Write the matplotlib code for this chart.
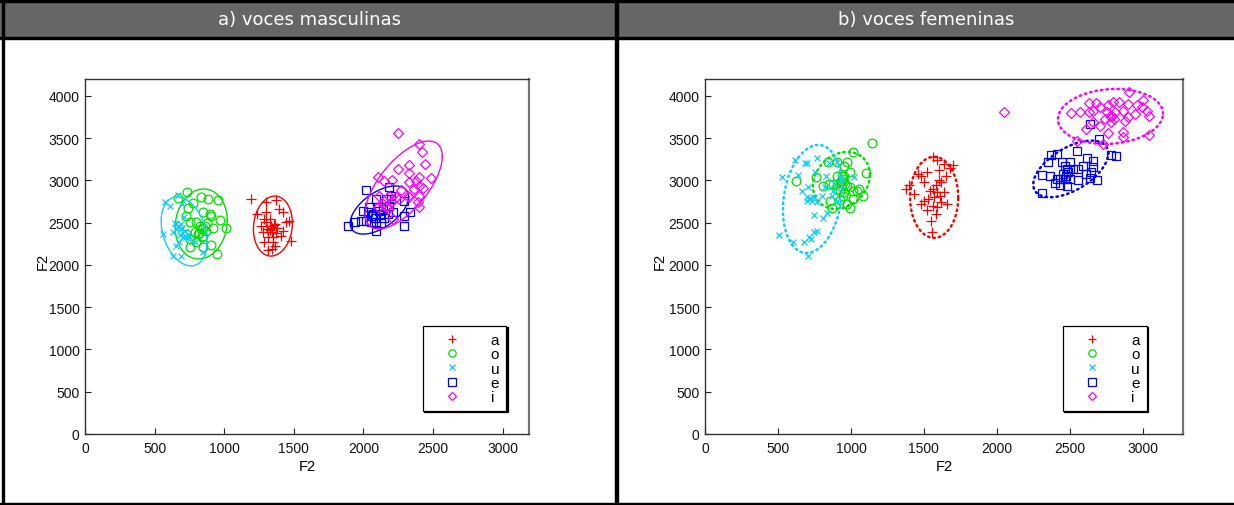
import numpy as np
import matplotlib
matplotlib.use("Agg")
import matplotlib.pyplot as plt
from matplotlib.patches import Rectangle
from matplotlib.lines import Line2D

plt.rcParams['font.family'] = ['Liberation Sans', 'DejaVu Sans']

vowels = ["a", "o", "u", "e", "i"]
colors = ["#ff0000", "#00e000", "#11ccff", "#0000ff", "#ff00ff"]
markers = ["+", "o", "x", "s", "D"]
msizes = [7, 6.3, 5, 6.3, 5]
titles = ["a) voces masculinas", "b) voces femeninas"]

# ---- voces masculinas: (F2, F3) por vocal ----
male_a = [(1195, 2781), (1297, 2749), (1374, 2773), (1235, 2604), (1297, 2631), (1393, 2663),
          (1422, 2623), (1446, 2513), (1465, 2525), (1302, 2505), (1331, 2544), (1338, 2465),
          (1362, 2485), (1379, 2434), (1307, 2426), (1345, 2394), (1278, 2387), (1422, 2406),
          (1410, 2347), (1314, 2327), (1350, 2327), (1283, 2268), (1350, 2276), (1362, 2229),
          (1345, 2189), (1314, 2181), (1482, 2288), (1266, 2465), (1283, 2544), (1340, 2440),
          (1355, 2470), (1330, 2410), (1370, 2380)]
male_o = [(733, 2860), (669, 2789), (836, 2801), (884, 2781), (956, 2773), (777, 2734),
          (741, 2671), (848, 2623), (896, 2604), (908, 2584), (729, 2584), (801, 2505),
          (824, 2465), (860, 2465), (968, 2537), (1011, 2434), (920, 2434), (753, 2505),
          (789, 2387), (812, 2367), (848, 2347), (753, 2308), (801, 2268), (848, 2209),
          (908, 2237), (753, 2209), (948, 2130), (729, 2367), (830, 2420), (850, 2440),
          (820, 2380), (870, 2400), (840, 2330), (880, 2500)]
male_u = [(573, 2742), (669, 2828), (557, 2367), (652, 2485), (669, 2465), (633, 2387),
          (693, 2426), (717, 2347), (729, 2327), (753, 2308), (676, 2268), (657, 2229),
          (633, 2110), (693, 2110), (789, 2268), (848, 2150), (710, 2564), (609, 2702),
          (690, 2480), (700, 2440), (660, 2420), (720, 2400), (740, 2360), (705, 2330),
          (680, 2350), (650, 2500), (700, 2720)]
male_e = [(2019, 2891), (2186, 2919), (2091, 2781), (2163, 2781), (2198, 2781), (2043, 2683),
          (2103, 2683), (2139, 2663), (2186, 2702), (1995, 2643), (2031, 2623), (2067, 2604),
          (2127, 2604), (2174, 2604), (2210, 2623), (2294, 2761), (2335, 2623), (2294, 2576),
          (1983, 2525), (2019, 2525), (2055, 2505), (2091, 2505), (2127, 2497), (1888, 2465),
          (1943, 2505), (2091, 2406), (2294, 2465), (2198, 2820), (2080, 2560), (2110, 2640),
          (2060, 2580), (2150, 2560)]
male_i = [(2246, 3562), (2401, 3432), (2418, 3341), (2444, 3195), (2246, 3136), (2330, 3183),
          (2330, 3089), (2401, 3037), (2485, 3030), (2103, 3037), (2151, 2998), (2206, 3006),
          (2330, 2978), (2378, 2998), (2401, 2939), (2425, 2907), (2270, 2891), (2366, 2899),
          (2401, 2820), (2186, 2820), (2234, 2801), (2330, 2801), (2258, 2781), (2139, 2722),
          (2103, 2683), (2174, 2663), (2210, 2544), (2389, 2742), (2401, 2683), (2318, 2820),
          (2115, 2820), (2200, 2740), (2170, 2700)]

# ---- voces femeninas ----
female_a = [(1377, 2900), (1400, 2950), (1430, 2840), (1460, 3080), (1480, 3050), (1500, 2980),
            (1520, 3100), (1560, 3280), (1590, 3240), (1600, 3120), (1640, 3200), (1680, 3150),
            (1700, 3180), (1650, 3050), (1620, 2980), (1580, 2950), (1560, 2900), (1540, 2870),
            (1590, 2860), (1610, 2820), (1570, 2800), (1530, 2780), (1500, 2760), (1620, 2740),
            (1660, 2720), (1560, 2700), (1590, 2680), (1520, 2650), (1580, 2600), (1550, 2520),
            (1555, 2390), (1480, 2720), (1640, 2860), (1600, 3000)]
female_o = [(1142, 3444), (1011, 3341), (845, 3215), (906, 3215), (970, 3215), (952, 3168),
            (993, 3097), (902, 3057), (936, 3057), (1103, 3089), (623, 2998), (760, 3037),
            (811, 2931), (852, 2959), (879, 2959), (925, 2978), (947, 3018), (970, 2939),
            (993, 2919), (1016, 2880), (1039, 2880), (1057, 2899), (1080, 2820), (925, 2880),
            (952, 2860), (856, 2761), (925, 2773), (970, 2722), (993, 2675), (868, 2671),
            (1016, 2781), (947, 2820), (902, 2899), (960, 2960), (940, 2990), (955, 3050),
            (930, 2940)]
female_u = [(525, 3045), (616, 3243), (639, 3069), (685, 3207), (701, 3207), (769, 3262),
            (852, 3203), (753, 3097), (829, 3057), (902, 3215), (1021, 3045), (662, 2880),
            (708, 2919), (696, 2801), (719, 2781), (731, 2761), (747, 2801), (765, 2742),
            (799, 2820), (868, 2820), (902, 2761), (879, 2880), (749, 2592), (806, 2553),
            (838, 2612), (509, 2355), (601, 2268), (678, 2276), (715, 2327), (724, 2308),
            (747, 2387), (765, 2406), (708, 2103), (929, 3018), (884, 2970), (822, 2919),
            (720, 2790), (700, 2760)]
female_e = [(2637, 3669), (2701, 3491), (2785, 3302), (2815, 3294), (2550, 3353), (2374, 3302),
            (2409, 3314), (2500, 3223), (2614, 3262), (2655, 3235), (2352, 3215), (2443, 3215),
            (2466, 3176), (2477, 3136), (2523, 3136), (2557, 3136), (2591, 3168), (2660, 3156),
            (2306, 3065), (2363, 3057), (2409, 3018), (2432, 3018), (2466, 3018), (2500, 3018),
            (2397, 2970), (2432, 2947), (2477, 2939), (2557, 3010), (2637, 3026), (2683, 3010),
            (2306, 2852), (2610, 3077), (2648, 3097), (2450, 3080), (2470, 3050), (2490, 3100)]
female_i = [(2048, 3815), (2507, 3799), (2568, 3807), (2632, 3917), (2678, 3917), (2632, 3807),
            (2660, 3826), (2705, 3866), (2763, 3893), (2792, 3933), (2838, 3933), (2906, 4051),
            (2900, 3905), (2957, 3893), (2998, 3956), (3025, 3826), (3043, 3759), (2751, 3807),
            (2774, 3767), (2808, 3807), (2740, 3728), (2785, 3688), (2865, 3826), (2877, 3708),
            (2900, 3748), (2945, 3787), (2610, 3609), (2550, 3471), (2724, 3432), (2763, 3562),
            (2865, 3578), (2865, 3511), (3043, 3538), (2991, 3866), (2705, 3649), (2660, 3688),
            (2790, 3760), (2800, 3730)]

# elipses: (centro F2, centro F3, semiancho, semialto, correlacion)
male_ellipses = [(1350, 2460, 140, 355, 0.1), (835, 2485, 187, 414, 0.1),
                 (712, 2397, 165, 408, -0.3), (2115, 2650, 210, 285, 0.55),
                 (2290, 2946, 277, 520, 0.65)]
female_ellipses = [(1570, 2800, 165, 480, 0.0), (935, 3000, 195, 337, 0.2),
                   (736, 2781, 202, 639, 0.2), (2506, 3136, 257, 335, 0.55),
                   (2778, 3757, 360, 325, 0.1)]

male = [male_a, male_o, male_u, male_e, male_i]
female = [female_a, female_o, female_u, female_e, female_i]

W, H = 1234, 506
fig = plt.figure(figsize=(W / 100, H / 100), dpi=100)

# marco y cabeceras (coordenadas en pixeles de la figura)
bg = fig.add_axes([0, 0, 1, 1])
bg.set_xlim(0, W)
bg.set_ylim(H, 0)
bg.axis("off")
bg.add_patch(Rectangle((0, 0), W, 39, color="#666666"))
for (x0, y0, w, h) in [(0, 0, W, 2.5), (0, 37.5, W, 2), (0, 503.5, W, 2.5), (1.5, 0, 2.5, H), (614.5, 0, 3.5, H)]:
    bg.add_patch(Rectangle((x0, y0), w, h, color="black"))
bg.text(309, 20, titles[0], color="white", fontsize=13, family="DejaVu Sans", ha="center", va="center")
bg.text(926, 20, titles[1], color="white", fontsize=13, family="DejaVu Sans", ha="center", va="center")

t = np.linspace(0, 2 * np.pi, 300)


def panel(rect, groups, ellipses, xmax, dotted, leg_anchor):
    ax = fig.add_axes(rect)
    for pts, ell, c, m, s in zip(groups, ellipses, colors, markers, msizes):
        pts = np.array(pts)
        ax.plot(pts[:, 0], pts[:, 1], linestyle="none", marker=m, markersize=s,
                markeredgecolor=c, markerfacecolor="none", markeredgewidth=0.9)
        cx, cy, sx, sy, rho = ell
        ex = cx + sx * np.cos(t)
        ey = cy + sy * (rho * np.cos(t) + np.sqrt(1 - rho ** 2) * np.sin(t))
        if dotted:
            ax.plot(ex, ey, color=c, lw=1.8, linestyle=(0, (0.6, 1.6)), dash_capstyle="round")
        else:
            ax.plot(ex, ey, color=c, lw=1.0)
    ax.set_xlim(0, xmax)
    ax.set_ylim(0, 4200)
    ax.set_xticks([0, 500, 1000, 1500, 2000, 2500, 3000])
    ax.set_yticks([0, 500, 1000, 1500, 2000, 2500, 3000, 3500, 4000])
    ax.tick_params(direction="in", length=4, width=0.8, labelsize=10, pad=4, color="#222222",
                   labelcolor="#111111")
    ax.tick_params(axis="x", pad=5)
    for sp in ax.spines.values():
        sp.set_color("#333333")
        sp.set_linewidth(1.0)
    ax.spines["right"].set_linewidth(1.6)
    ax.spines["right"].set_color("#777777")
    ax.set_xlabel("F2", fontsize=10.5, labelpad=3)
    ax.set_ylabel("F2", fontsize=10.5)
    ax.yaxis.set_label_coords(-0.08, 0.49)

    handles = [Line2D([], [], linestyle="none", marker=m, markersize=s - 1, markeredgecolor=c,
                      markerfacecolor="none", markeredgewidth=0.9)
               for c, m, s in zip(colors, markers, msizes)]
    leg = ax.legend(handles, vowels, loc="upper left", bbox_to_anchor=leg_anchor,
                    fontsize=11, frameon=True, fancybox=False, handlelength=2.9,
                    handletextpad=1.1, labelspacing=0.02, borderpad=0.45,
                    borderaxespad=0, shadow={"ox": 1, "oy": -1, "facecolor": "black",
                                             "edgecolor": "black", "alpha": 1})
    leg.get_frame().set_edgecolor("black")
    leg.get_frame().set_linewidth(0.9)
    return ax


panel([85 / W, 71 / H, 444 / W, 355 / H], male, male_ellipses, 3190, False, (0.761, 0.304))
panel([705 / W, 71 / H, 478 / W, 355 / H], female, female_ellipses, 3275, True, (0.749, 0.304))

fig.savefig("out.png", dpi=100)
